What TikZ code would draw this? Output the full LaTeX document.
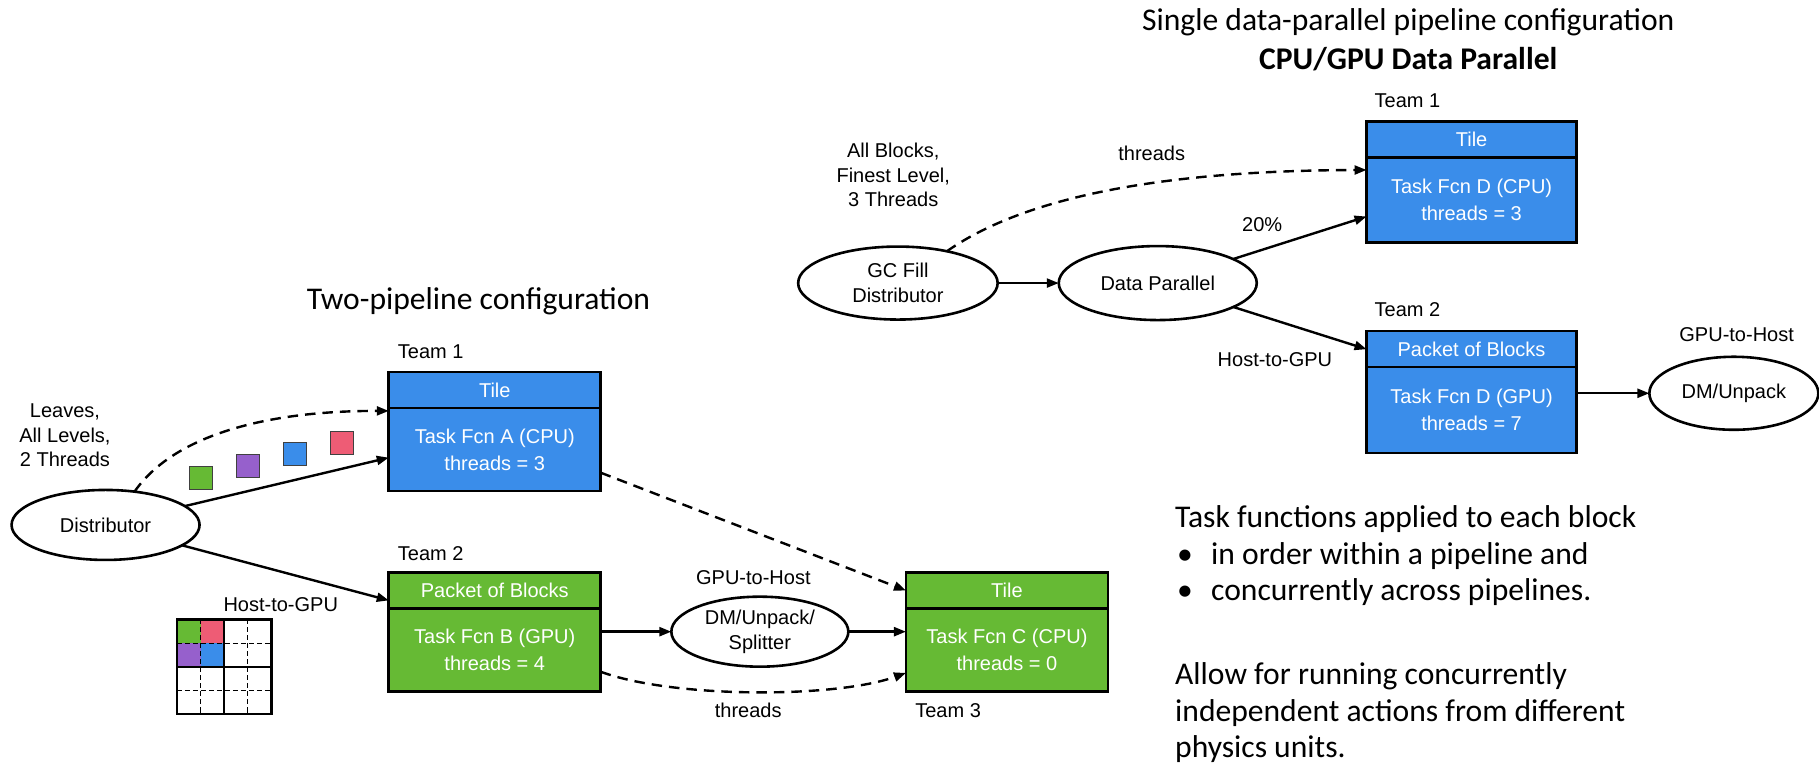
\documentclass[tikz,border=0pt]{standalone}
\usepackage{fontspec}
\setmainfont{Liberation Sans}
\newfontfamily\slidefont{Carlito}
\usetikzlibrary{shapes.geometric,arrows.meta,calc}

\definecolor{teamblue}{HTML}{3A8DEA}
\definecolor{teamgreen}{HTML}{66BA34}
\definecolor{blkpurple}{HTML}{9660CC}
\definecolor{blkred}{HTML}{EE5C75}

\begin{document}
\begin{tikzpicture}[x=1.16pt,y=-1.16pt,
  every node/.style={inner sep=0pt, outer sep=0pt},
  diag/.style={font=\fontsize{20}{24.5}\selectfont, align=center},
  slide/.style={font=\slidefont\fontsize{31.6}{37}\selectfont, anchor=base west},
  hdr/.style={diag, draw=black, line width=2.6pt, text=white,
    minimum height=36pt, minimum width=212pt},
  bdy/.style={draw=black, line width=2.6pt, text=white, align=center,
    font=\fontsize{20}{27.3}\selectfont,
    minimum height=83pt, minimum width=212pt, anchor=north},
  oval/.style={diag, ellipse, draw=black, line width=2.6pt},
  lbl/.style={diag},
  teamlbl/.style={diag, anchor=west},
  conn/.style={line width=2.4pt, -{Triangle[length=12pt,width=9pt]}},
  dconn/.style={conn, dash pattern=on 10.5pt off 7pt},
  blk/.style={draw=black!75, line width=0.9pt, minimum size=23pt},
  gridsolid/.style={line width=2.4pt},
  griddash/.style={line width=1.1pt, dash pattern=on 5pt off 3pt},
]
\useasboundingbox (0,0) rectangle (1568,659);

% ---------- titles ----------
\node[slide] (t2pipe) at (264.5,266.5) {Two-pipeline configuration};
\node[slide] (t1pipe) at (984.5,26.5) {Single data-parallel pipeline configuration};
\node[slide, anchor=base, font=\slidefont\bfseries\fontsize{31.6}{37}\selectfont]
  (tcpugpu) at ($(t1pipe.base)+(0,33.5)$) {CPU/GPU Data Parallel};

% ---------- two-pipeline configuration ----------
\node[oval, minimum width=188pt, minimum height=70pt] (dist) at (91,452.5) {Distributor};
\node[lbl] (leaves) at (56,375.5) {Leaves,\\All Levels,\\2 Threads};

\node[hdr, fill=teamblue] (Ah) at (426.5,336.2) {Tile};
\node[bdy, fill=teamblue] (Ab) at (Ah.south) {Task Fcn A (CPU)\\threads = 3};
\node[teamlbl] (teamA) at (343,303) {Team 1};

\node[hdr, fill=teamgreen] (Bh) at (426.5,509) {Packet of Blocks};
\node[bdy, fill=teamgreen] (Bb) at (Bh.south) {Task Fcn B (GPU)\\threads = 4};
\node[teamlbl] (teamB) at (343,477.6) {Team 2};

\node[hdr, fill=teamgreen, minimum width=202pt] (Ch) at (868,509) {Tile};
\node[bdy, fill=teamgreen, minimum width=202pt] (Cb) at (Ch.south) {Task Fcn C (CPU)\\threads = 0};
\node[teamlbl] (teamC) at (789,612.6) {Team 3};

\node[oval, minimum width=177pt, minimum height=70pt] (split) at (655,544.5) {DM/Unpack/\\Splitter};
\node[lbl] (g2hA) at (649.4,497.7) {GPU-to-Host};
\node[lbl] (h2gA) at (242,521.6) {Host-to-GPU};
\node[lbl] (thrA) at (645,612) {threads};

% blocks travelling to the CPU team
\node[blk, fill=teamgreen] (sq1) at (173,412) {};
\node[blk, fill=blkpurple] (sq2) at (214,402) {};
\node[blk, fill=teamblue] (sq3) at (254,391.5) {};
\node[blk, fill=blkred] (sq4) at (295,381.5) {};

% packet of blocks on the GPU
\begin{scope}[shift={(152.5,534)}]
  \fill[teamgreen] (0,0) rectangle (20.4,20.4);
  \fill[blkred] (20.4,0) rectangle (40.8,20.4);
  \fill[blkpurple] (0,20.4) rectangle (20.4,40.8);
  \fill[teamblue] (20.4,20.4) rectangle (40.8,40.8);
  \draw[griddash] (20.4,0) -- (20.4,81.6) (61.2,0) -- (61.2,81.6)
                  (0,20.4) -- (81.6,20.4) (0,61.2) -- (81.6,61.2);
  \draw[gridsolid] (40.8,0) -- (40.8,81.6) (0,40.8) -- (81.6,40.8);
  \draw[gridsolid] (0,0) rectangle (81.6,81.6);
\end{scope}

\draw[dconn] (dist.49) .. controls (150,375) and (230,354) .. ($(Ab.north west)+(0,2.5)$);
\draw[conn] (dist) -- ($(Ab.west)+(0,7)$);
\draw[conn] (dist) -- ($(Bh.south west)+(0,-7)$);
\draw[conn] (Bb.east |- split) -- (split);
\draw[conn] (split) -- (Cb.west |- split);
\draw[dconn] ($(Ab.east)+(0,20)$) -- (Ch.west);
\draw[dconn] ($(Bb.south east)+(0,-17)$) .. controls (580,602) and (720,602) .. ($(Cb.south west)+(0,-16)$);

% ---------- single data-parallel pipeline ----------
\node[oval, minimum width=199.5pt, minimum height=73pt] (gc) at (774,244) {GC Fill\\Distributor};
\node[lbl] (allblk) at (770,151) {All Blocks,\\Finest Level,\\3 Threads};
\node[oval, minimum width=198pt, minimum height=74pt] (dp) at (998,244) {Data Parallel};

\node[hdr, fill=teamblue, minimum width=210pt] (D1h) at (1268.5,120) {Tile};
\node[bdy, fill=teamblue, minimum width=210pt, minimum height=85pt] (D1b) at (D1h.south) {Task Fcn D (CPU)\\threads = 3};
\node[teamlbl] (teamD1) at (1185,86.8) {Team 1};

\node[hdr, fill=teamblue, minimum width=210pt] (D2h) at (1268.5,301) {Packet of Blocks};
\node[bdy, fill=teamblue, minimum width=210pt, minimum height=86pt] (D2b) at (D2h.south) {Task Fcn D (GPU)\\threads = 7};
\node[teamlbl] (teamD2) at (1185,267) {Team 2};

\node[oval, minimum width=169pt, minimum height=73pt] (dmu) at (1494.6,339) {DM/Unpack};
\node[lbl] (g2hD) at (1497,288.8) {GPU-to-Host};
\node[lbl] (h2gD) at (1099,310) {Host-to-GPU};
\node[lbl] (thrD) at (992.8,132.2) {threads};
\node[lbl] (pct) at (1088,194) {20\%};

\draw[dconn] (gc.33) .. controls (890,165) and (1020,147) .. ($(D1b.north west)+(0,11)$);
\draw[conn] (gc) -- (dp);
\draw[conn] (dp) -- ($(D1b.west)+(0,14.5)$);
\draw[conn] (dp) -- (D2h.west);
\draw[conn] (D2b.east |- dmu) -- (dmu);

% ---------- notes ----------
\node[slide] (n1) at (1013,455) {Task functions applied to each block};
\node[slide] (n2) at (1013,486.5) {\makebox[36pt][l]{\hspace{2pt}•}in order within a pipeline and};
\node[slide] (n3) at (1013,518) {\makebox[36pt][l]{\hspace{2pt}•}concurrently across pipelines.};
\node[slide] (n4) at (1013,590) {Allow for running concurrently};
\node[slide] (n5) at (1013,621.5) {independent actions from different};
\node[slide] (n6) at (1013,653) {physics units.};
\end{tikzpicture}
\end{document}
